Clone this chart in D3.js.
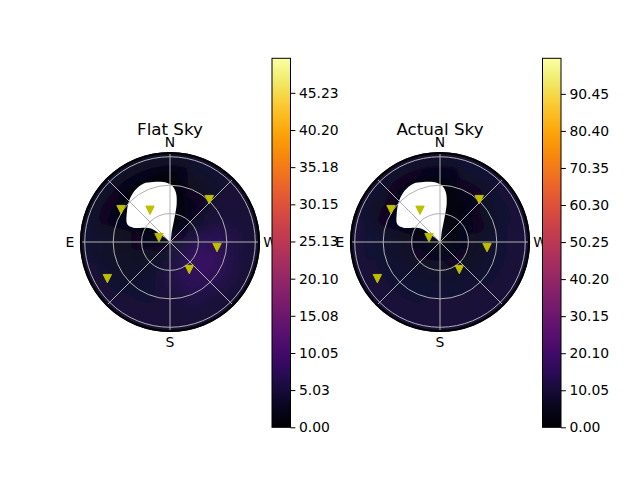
<!DOCTYPE html>
<html>
<head>
<meta charset="utf-8">
<script src="https://cdn.jsdelivr.net/npm/d3@7"></script>
<style>
    body { margin: 0; background: #fff; }
    text { font-family: "DejaVu Sans", sans-serif; }
</style>
</head>
<body>
<div id="chart"></div>
<script>
// Sky grid: azimuth sectors (deg, N=0, E=90) and zenith bin edges (deg)
const azCenters = [0, 30, 60, 90, 120, 150, 180, 210, 240, 270, 300, 330];
const zenEdges = [0, 10, 20, 30, 40, 50, 60, 70, 80, 90, 95];

// one row per azimuth sector, one column per zenith bin
const flatSky = [
    [1.0, 0.5, 0.5, 0.5, 0.5, 0.5, 0.5, 1.5, 3.0, 4.0],
    [1.0, 0.5, 0.5, 0.5, 0.5, 0.5, 0.8, 1.5, 3.0, 4.0],
    [1.0, 0.8, 0.8, 1.0, 1.0, 1.2, 1.5, 2.5, 3.5, 4.0],
    [1.5, 1.5, 2.0, 2.5, 3.0, 3.0, 3.5, 3.5, 4.0, 4.5],
    [2.0, 2.5, 3.0, 3.0, 3.5, 3.5, 3.5, 4.0, 4.5, 4.5],
    [2.5, 3.0, 3.5, 4.0, 4.0, 4.0, 4.0, 4.5, 4.5, 4.5],
    [3.0, 4.0, 5.0, 5.5, 5.5, 5.0, 4.5, 4.5, 4.5, 4.5],
    [3.5, 5.0, 6.5, 7.5, 7.5, 7.0, 6.0, 5.0, 4.5, 4.5],
    [3.5, 5.5, 7.5, 9.0, 9.0, 8.0, 6.5, 5.5, 4.5, 4.5],
    [3.0, 4.5, 6.0, 7.5, 7.5, 7.0, 6.0, 5.0, 4.5, 4.5],
    [1.5, 2.5, 3.5, 4.0, 4.5, 4.5, 4.5, 4.5, 4.5, 4.5],
    [1.0, 1.0, 1.0, 1.5, 2.0, 2.5, 3.0, 3.5, 4.0, 4.5]
];

const actualSky = [
    [2.0, 1.0, 1.0, 1.0, 1.0, 1.0, 2.0, 4.0, 7.0, 9.0],
    [2.0, 1.0, 1.0, 1.0, 1.0, 1.5, 3.0, 5.0, 7.0, 9.0],
    [2.0, 2.0, 2.0, 2.5, 3.0, 4.0, 5.0, 6.5, 8.0, 9.0],
    [3.0, 3.5, 4.5, 6.0, 7.0, 7.5, 8.0, 8.5, 9.0, 10.0],
    [3.0, 4.0, 5.5, 7.0, 8.0, 8.0, 8.5, 9.0, 9.5, 10.0],
    [3.0, 4.5, 6.0, 7.5, 8.0, 8.5, 8.5, 9.0, 9.5, 10.0],
    [3.0, 4.5, 6.0, 7.5, 8.0, 8.5, 9.0, 9.0, 9.5, 10.0],
    [3.0, 4.0, 5.5, 7.0, 8.0, 8.5, 9.0, 9.0, 9.5, 10.0],
    [2.5, 3.5, 5.0, 6.5, 7.5, 8.0, 8.5, 9.0, 9.5, 10.0],
    [2.0, 3.0, 4.5, 6.0, 7.0, 8.0, 8.5, 9.0, 9.5, 10.0],
    [2.0, 2.5, 3.5, 4.5, 5.5, 6.5, 7.5, 8.5, 9.0, 10.0],
    [2.0, 1.5, 2.0, 2.5, 3.0, 4.0, 5.5, 7.0, 8.5, 9.5]
];

// masked (no data) region outline
const maskAz = [10, 350.3, 349.4, 350.1, 353, 357.3, 3.2, 15.5, 24.6, 34.1, 44.3, 56.8, 67.5, 68.7, 60.2, 54, 51.3, 48.8];
const maskZen = [0.3, 12.5, 26.8, 41.1, 52.1, 58.8, 62.7, 65.7, 67.7, 65.9, 61.5, 54.6, 48.8, 41.6, 30.4, 23.9, 11.3, 3.7];

// star positions
const starAz = [56.5, 32.2, 317.2, 68.2, 263.2, 215, 120.3];
const starZen = [62.0, 39.6, 61.0, 12.5, 50.0, 35.5, 76.6];

const flatTicks = [0, 5.03, 10.05, 15.08, 20.10, 25.13, 30.15, 35.18, 40.20, 45.23];
const actualTicks = [0, 10.05, 20.10, 30.15, 40.20, 50.25, 60.30, 70.35, 80.40, 90.45];

const rGrid = [30, 60, 90];
const thetaGrid = [0, 45, 90, 135, 180, 225, 270, 315];
const compassLabels = ["N", "E", "S", "W"];
const compassAz = [0, 90, 180, 270];

const panels = [
    { title: "Flat Sky", cx: 170, cy: 242, cbX: 272, grid: flatSky, max: 49.9, ticks: flatTicks },
    { title: "Actual Sky", cx: 440, cy: 242, cbX: 542.5, grid: actualSky, max: 100.1, ticks: actualTicks }
];

const width = 640, height = 480;
const rMax = 95;
const cbTop = 58.3, cbBottom = 427.3, cbWidth = 18.5;

const rad = d => d * Math.PI / 180;
const r = d3.scaleLinear().domain([0, rMax]).range([0, 90]);

const svg = d3.select("#chart").append("svg")
    .attr("width", width)
    .attr("height", height);

const defs = svg.append("defs");

defs.append("filter")
    .attr("id", "soft")
    .attr("x", "-20%").attr("y", "-20%")
    .attr("width", "140%").attr("height", "140%")
    .append("feGaussianBlur")
    .attr("stdDeviation", 8);

// colorbar gradient
const grad = defs.append("linearGradient")
    .attr("id", "inferno")
    .attr("x1", 0).attr("y1", 1)
    .attr("x2", 0).attr("y2", 0);
grad.selectAll("stop")
    .data(d3.range(0, 1.0001, 0.05))
    .enter().append("stop")
    .attr("offset", d => d)
    .attr("stop-color", d => d3.interpolateInferno(d));

defs.append("clipPath")
    .attr("id", "disk")
    .append("circle")
    .attr("r", r(rMax));

const arc = d3.arc();
const maskLine = d3.lineRadial()
    .angle(d => -rad(d[0]))
    .radius(d => r(d[1]))
    .curve(d3.curveCatmullRomClosed.alpha(0.5));

panels.forEach(p => {
    const color = d3.scaleSequential(d3.interpolateInferno).domain([0, p.max]);

    const g = svg.append("g")
        .attr("transform", `translate(${p.cx},${p.cy})`);

    // heat map cells
    const cells = [];
    azCenters.forEach((az, i) => {
        zenEdges.slice(0, -1).forEach((z0, j) => {
            const z1 = zenEdges[j + 1];
            cells.push({
                az: az,
                inner: r(z0),
                outer: j === zenEdges.length - 2 ? r(z1) + 20 : r(z1),
                value: p.grid[i][j]
            });
        });
    });

    g.append("g")
        .attr("clip-path", "url(#disk)")
        .append("g")
        .attr("filter", "url(#soft)")
        .selectAll("path")
        .data(cells)
        .enter().append("path")
        .attr("d", d => arc({
            innerRadius: d.inner,
            outerRadius: d.outer,
            startAngle: -rad(d.az + 15.5),
            endAngle: -rad(d.az - 15.5)
        }))
        .attr("fill", d => color(d.value));

    // masked region
    g.append("path")
        .datum(maskAz.map((a, i) => [a, maskZen[i]]))
        .attr("d", maskLine)
        .attr("fill", "#fff");

    // grid
    g.append("g")
        .selectAll("circle")
        .data(rGrid)
        .enter().append("circle")
        .attr("r", d => r(d))
        .attr("fill", "none")
        .attr("stroke", "#b0b0b0")
        .attr("stroke-width", 1);

    g.append("g")
        .selectAll("line")
        .data(thetaGrid)
        .enter().append("line")
        .attr("x1", 0).attr("y1", 0)
        .attr("x2", d => -r(rMax) * Math.sin(rad(d)))
        .attr("y2", d => -r(rMax) * Math.cos(rad(d)))
        .attr("stroke", "#b0b0b0")
        .attr("stroke-width", 1);

    // outer spine
    g.append("circle")
        .attr("r", r(rMax) - 1)
        .attr("fill", "none")
        .attr("stroke", "#000")
        .attr("stroke-width", 2.2);

    // stars
    g.append("g")
        .selectAll("path")
        .data(starAz.map((a, i) => [a, starZen[i]]))
        .enter().append("path")
        .attr("d", "M0,4.2L-4.2,-4.2L4.2,-4.2Z")
        .attr("transform", d => `translate(${-r(d[1]) * Math.sin(rad(d[0]))},${-r(d[1]) * Math.cos(rad(d[0]))})`)
        .attr("fill", "#bfbf00")
        .attr("stroke", "#bfbf00")
        .attr("stroke-width", 1);

    // compass labels
    g.append("g")
        .selectAll("text")
        .data(compassLabels)
        .enter().append("text")
        .attr("x", (d, i) => -(r(rMax) + 10) * Math.sin(rad(compassAz[i])))
        .attr("y", (d, i) => -(r(rMax) + 10) * Math.cos(rad(compassAz[i])))
        .attr("text-anchor", "middle")
        .attr("dominant-baseline", "central")
        .attr("font-size", "13.9px")
        .text(d => d);

    svg.append("text")
        .attr("x", p.cx)
        .attr("y", 135)
        .attr("text-anchor", "middle")
        .attr("font-size", "16.7px")
        .text(p.title);

    // colorbar
    const y = d3.scaleLinear().domain([0, p.max]).range([cbBottom, cbTop]);

    svg.append("rect")
        .attr("x", p.cbX)
        .attr("y", cbTop)
        .attr("width", cbWidth)
        .attr("height", cbBottom - cbTop)
        .attr("fill", "url(#inferno)")
        .attr("stroke", "#000")
        .attr("stroke-width", 1);

    const axis = svg.append("g")
        .attr("transform", `translate(${p.cbX + cbWidth},0)`)
        .call(d3.axisRight(y)
            .tickValues(p.ticks)
            .tickSize(4.9)
            .tickPadding(3.5)
            .tickFormat(d3.format(".2f")));
    axis.select(".domain").remove();
    axis.selectAll("line").attr("stroke", "#000").attr("stroke-width", 1);
    axis.selectAll("text")
        .attr("font-size", "13.9px")
        .attr("font-family", "DejaVu Sans")
        .attr("fill", "#000");
});
</script>
</body>
</html>
